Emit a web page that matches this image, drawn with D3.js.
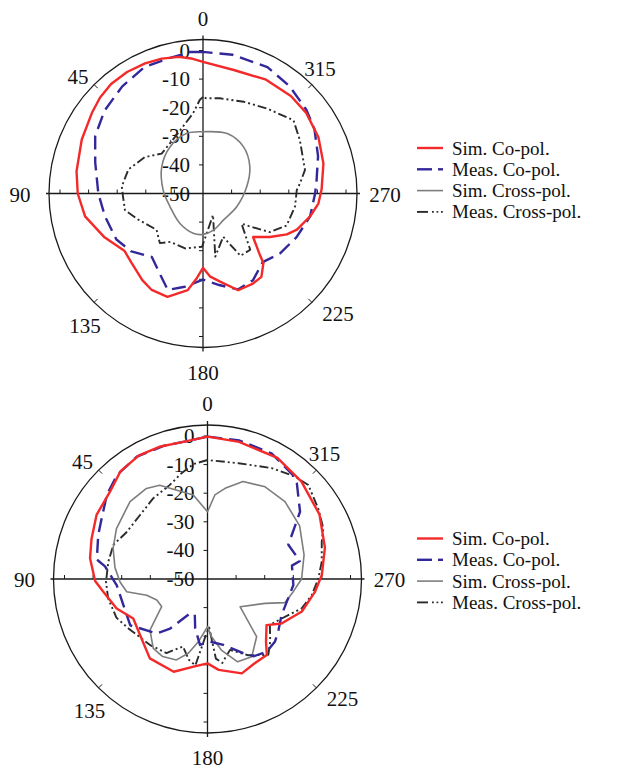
<!DOCTYPE html>
<html>
<head>
<meta charset="utf-8">
<script src="https://cdn.jsdelivr.net/npm/d3@7"></script>
<style>
  html, body { margin: 0; padding: 0; background: #fff; }
  svg { display: block; }
  text { font-family: "Liberation Serif", "Times New Roman", serif; fill: #111; }
</style>
</head>
<body>
<svg id="chart" width="617" height="773"></svg>
<script>
// Radiation patterns: [angle in degrees, gain in dB]

// Upper pattern
const topSimCo = [[0,-4],[5,-2.6],[10,-1.5],[17,-0.7],[24,-0.2],[32,0.1],[40,0],[47,-0.8],[54,-2],[66,-3.6],[80,-5.1],[90,-6.2],[101,-8],[114,-12.3],[126,-16],[134,-15.2],[145,-13],[152,-11.8],[161,-11.8],[171,-15.8],[176,-20.5],[180,-24],[185,-20.8],[191,-18.6],[200,-14],[209,-14],[215,-14.4],[221,-17.8],[223,-21],[229,-26.8],[237,-22.1],[244,-17.4],[249,-14.8],[258,-11.7],[265,-9.5],[272,-8.5],[284,-6.6],[296,-5.1],[308,-4.2],[318,-4.1],[331,-4.5],[346,-5.5]];
const topMeasCo = [[0,-0.5],[5,-0.3],[14,-1.2],[25,-1.3],[37,-3.1],[50,-5],[62,-7.3],[74,-10.8],[90,-13.4],[103,-14.8],[118,-15.7],[129,-17.8],[141,-21.5],[155,-16.7],[160,-14.1],[169,-16.8],[180,-19.9],[190,-17.5],[200,-14.3],[210,-15],[221,-18.2],[232,-15.9],[245,-13.9],[258,-11.7],[270,-10.8],[276,-10.1],[288,-7.7],[300,-5],[309,-3.5],[321,-1.8],[333,-0.4],[348,-0.4]];
const topSimCross = [[0,-28.4],[15,-28.2],[35,-30],[57,-32.8],[85,-36],[112,-37.6],[142,-36.8],[166,-35.7],[180,-35.7],[196,-36.7],[218,-38.3],[249,-37.3],[279,-34.5],[300,-31.1],[319,-28.4],[338,-27.4]];
const topMeasCross = [[0,-16.2],[2,-17.3],[7,-21.7],[26,-27.9],[46,-29.9],[58,-26],[72,-22.6],[85,-21.5],[92,-22],[102,-22.1],[112,-25.6],[128,-29.4],[139,-27],[146,-29.6],[162,-29.8],[179,-31.4],[205,-41.7],[191,-27.5],[205,-33.3],[211,-24.6],[220,-24.3],[232,-32.9],[235,-29.9],[240,-23],[249,-18.7],[262,-17.5],[272,-17.2],[276,-15.9],[283,-13.4],[299,-11.3],[309,-9.3],[323,-12.8],[336,-14.9],[350,-16.2],[358,-16.7]];

// Lower pattern
const botSimCo = [[0,-0.2],[10,-1.3],[20,-0.8],[29,-0.6],[39,-1.6],[48,-4.2],[60,-5.2],[71,-7.1],[80,-8.3],[91,-10.7],[97,-13.3],[108,-16.6],[118,-20.6],[130,-19.3],[144,-15.7],[160,-15.5],[171,-19],[180,-20.5],[187,-18],[200,-14.9],[209,-16.2],[218,-16.3],[223,-20],[232,-23.8],[239,-19.8],[251,-15.1],[263,-12.2],[272,-10],[285,-7.5],[300,-4.8],[316,-2.7],[330,-1.1],[347,-0.8]];
const botMeasCo = [[0,-0.2],[9,-1.3],[18,-1],[30,-0.6],[41,-1.8],[50,-4.1],[60,-7.3],[68,-8.8],[80,-10.7],[83,-13.9],[94,-18.2],[107,-19.2],[121,-18.5],[137,-24],[143,-28.3],[152,-36],[160,-37],[166,-32.2],[173.5,-26.8],[182,-28.1],[193.5,-26.3],[205.7,-21.2],[211,-18.5],[219,-17.2],[227,-17.8],[233,-19.1],[244,-21.2],[266,-19.9],[279,-20.1],[281,-17.1],[293,-19.3],[306,-10],[317,-4.2],[321,-2.9],[333,-0.7],[347,-0.3]];
const botSimCross = [[0,-26.5],[9.6,-20.2],[27,-13.2],[34,-11.8],[45,-11.7],[61,-13.6],[72,-15.3],[83,-17.4],[92,-19.4],[99,-21.4],[105,-28],[112.5,-30.8],[121,-31.3],[131.6,-23.1],[142,-19.2],[150,-18.7],[159,-19.7],[165.5,-23.2],[171.7,-27.8],[180,-33.3],[184,-29.8],[191,-24.7],[200,-19.2],[209.6,-18.7],[220.4,-23.5],[229.6,-35],[247,-28.2],[253,-21.7],[261.6,-19.7],[270,-17.1],[284,-15.2],[300,-12.8],[315,-11.7],[328,-12],[340,-13.7],[349,-17.7],[355,-20.5]];
const botMeasCross = [[0,-8.4],[7,-9.5],[14,-12],[22,-14.6],[34,-16],[46.5,-17.5],[60,-17.3],[70,-15],[80,-14.8],[91.5,-14.5],[101,-14.6],[113,-15.4],[122,-17.4],[139,-19.4],[151,-20.4],[160,-24.9],[167,-21],[172,-19.5],[178,-30],[182,-33],[186,-22],[190,-20.2],[197.6,-24],[208,-19.8],[218.7,-16],[225,-19],[233.6,-22.9],[242,-20.6],[252.7,-15.5],[261.3,-13.1],[270,-11.3],[278.6,-9.6],[288,-8],[293.6,-5.8],[302.5,-4.1],[313,-1.8],[319.5,-2.9],[330,-5.2],[345,-8.1]];

// Axis ticks and legend entries
const angleTicks = [0, 45, 90, 135, 180, 225, 270, 315];
const radialTicks = [0, -10, -20, -30, -40, -50];
const seriesNames = ["Sim. Co-pol.", "Meas. Co-pol.", "Sim. Cross-pol.", "Meas. Cross-pol."];

// ---- drawing ----
const svg = d3.select("#chart");
const R = 154;                       // outer ring radius
const rScale = d3.scaleLinear().domain([-50, 0]).range([0, 143]);
const toRad = d => d * Math.PI / 180;

const styles = [
  { stroke: "#f42a2a", width: 2.4, dash: null },
  { stroke: "#33289a", width: 2.4, dash: "14,7" },
  { stroke: "#7d7d7d", width: 1.6, dash: null },
  { stroke: "#2b2b2b", width: 1.9, dash: "9,3,2,3,2,3" }
];

// angle labels sit at fixed offsets around the ring
const labelOffset = {
  0: [0, -175], 45: [-125, -117], 90: [-183, 1], 135: [-118, 132],
  180: [0, 179], 225: [135, 120], 270: [182, 1], 315: [117, -125]
};

function drawPolar(cx, cy, series, curves, legendY) {
  const g = svg.append("g").attr("transform", `translate(${cx},${cy})`);

  g.append("circle").attr("r", R).attr("fill", "none")
    .attr("stroke", "#1a1a1a").attr("stroke-width", 1.3);

  g.append("line").attr("x1", -R - 3).attr("x2", R + 3).attr("y1", 0).attr("y2", 0)
    .attr("stroke", "#1a1a1a").attr("stroke-width", 1.3);
  g.append("line").attr("y1", -R - 4).attr("y2", R + 4).attr("x1", 0).attr("x2", 0)
    .attr("stroke", "#1a1a1a").attr("stroke-width", 1.3);

  // radial ticks along both axes
  const tickVals = radialTicks.filter(v => v > -50);
  tickVals.forEach(v => {
    const r = rScale(v);
    [-1, 1].forEach(s => {
      g.append("line").attr("x1", s * r).attr("x2", s * r).attr("y1", 0).attr("y2", -4)
        .attr("stroke", "#1a1a1a").attr("stroke-width", 1);
      g.append("line").attr("y1", s * r).attr("y2", s * r).attr("x1", 0).attr("x2", -4)
        .attr("stroke", "#1a1a1a").attr("stroke-width", 1);
    });
  });

  // diagonal ticks on the ring
  [45, 135, 225, 315].forEach(a => {
    const sx = -Math.sin(toRad(a)), sy = -Math.cos(toRad(a));
    g.append("line").attr("x1", sx * R).attr("y1", sy * R)
      .attr("x2", sx * (R - 5)).attr("y2", sy * (R - 5))
      .attr("stroke", "#1a1a1a").attr("stroke-width", 1);
  });

  // radial labels
  g.selectAll("text.rl").data(radialTicks).join("text")
    .attr("class", "rl")
    .attr("x", -13).attr("y", d => -rScale(d))
    .attr("text-anchor", "end").attr("dominant-baseline", "central")
    .attr("font-size", 21)
    .text(d => d);

  // angle labels
  g.selectAll("text.al").data(angleTicks).join("text")
    .attr("class", "al")
    .attr("x", d => labelOffset[d][0]).attr("y", d => labelOffset[d][1])
    .attr("text-anchor", "middle").attr("dominant-baseline", "central")
    .attr("font-size", 21)
    .text(d => d);

  // pattern curves
  const line = d3.lineRadial()
    .angle(d => -toRad(d[0]))
    .radius(d => rScale(d[1]))
    .curve(d3.curveLinearClosed);
  const smooth = d3.lineRadial()
    .angle(d => -toRad(d[0]))
    .radius(d => rScale(d[1]))
    .curve(d3.curveCatmullRomClosed);

  const order = [3, 2, 1, 0];
  order.forEach(i => {
    const st = styles[i];
    g.append("path")
      .attr("d", (curves[i] ? smooth : line)(series[i]))
      .attr("fill", "none")
      .attr("stroke", st.stroke)
      .attr("stroke-width", st.width)
      .attr("stroke-dasharray", st.dash)
      .attr("stroke-linejoin", "round");
  });

  // legend
  const lg = svg.append("g").attr("transform", `translate(417,${legendY})`);
  const rowH = 21.3;
  seriesNames.forEach((name, i) => {
    const st = styles[i];
    const y = i * rowH;
    if (i === 1) {
      lg.append("line").attr("x1", 0).attr("x2", 15).attr("y1", y).attr("y2", y)
        .attr("stroke", st.stroke).attr("stroke-width", st.width);
      lg.append("line").attr("x1", 21).attr("x2", 26).attr("y1", y).attr("y2", y)
        .attr("stroke", st.stroke).attr("stroke-width", st.width);
    } else if (i === 3) {
      lg.append("line").attr("x1", 0).attr("x2", 11).attr("y1", y).attr("y2", y)
        .attr("stroke", st.stroke).attr("stroke-width", st.width);
      [15, 19.5, 24].forEach(x =>
        lg.append("line").attr("x1", x).attr("x2", x + 1.8).attr("y1", y).attr("y2", y)
          .attr("stroke", st.stroke).attr("stroke-width", 1.6));
    } else {
      lg.append("line").attr("x1", 0).attr("x2", 26).attr("y1", y).attr("y2", y)
        .attr("stroke", st.stroke).attr("stroke-width", st.width);
    }
    lg.append("text").attr("x", 35).attr("y", y)
      .attr("dominant-baseline", "central").attr("font-size", 19)
      .text(name);
  });
}

drawPolar(203, 193.5, [topSimCo, topMeasCo, topSimCross, topMeasCross], [false, false, true, false], 148);
drawPolar(207.5, 579, [botSimCo, botMeasCo, botSimCross, botMeasCross], [false, false, false, false], 538.5);
</script>
</body>
</html>
